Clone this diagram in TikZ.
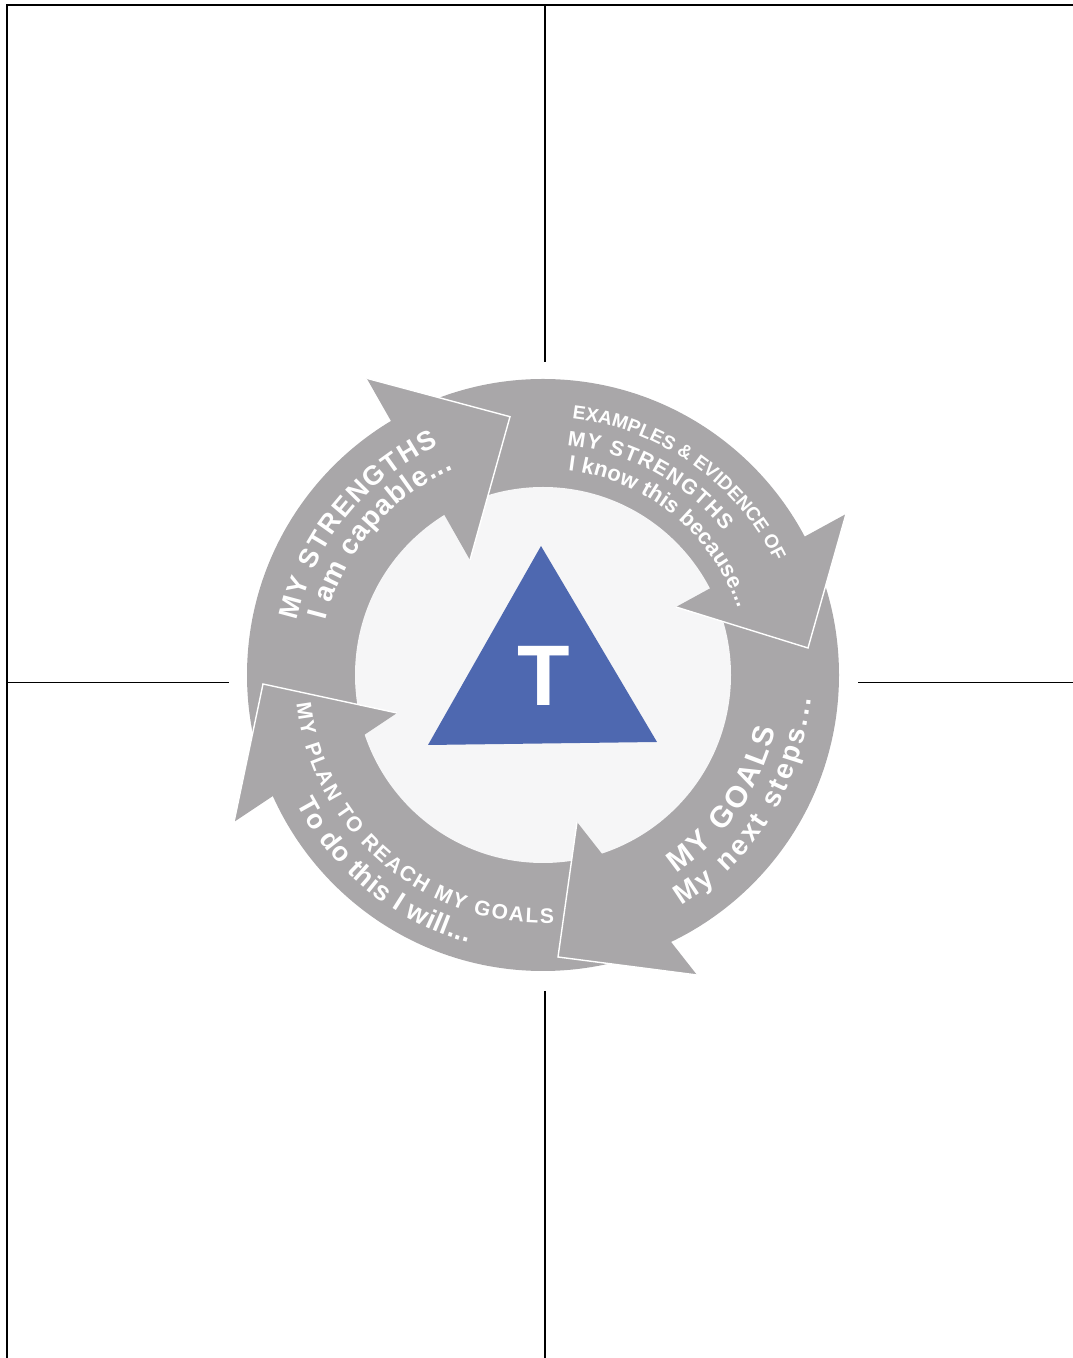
\documentclass[tikz,border=0pt]{standalone}
\usepackage{fontspec}
\setmainfont{Liberation Sans}
\usetikzlibrary{decorations.text}
\definecolor{ringgray}{RGB}{169,167,169}
\definecolor{hubgray}{RGB}{246,246,247}
\definecolor{tblue}{RGB}{78,104,176}
\newcommand{\arcfont}[1]{\bfseries\fontsize{#1}{#1}\selectfont}
\begin{document}
\begin{tikzpicture}[x=1pt,y=1pt,
  frame/.style={line width=2pt, line cap=rect},
  divider/.style={line width=1.6pt},
  headfill/.style={fill=ringgray},
  seam/.style={draw=white, line width=1.4pt, line join=miter},
  arclabel/.style={decorate, decoration={text along path,
      text align={fit to path}, text color=white, text={#1}}}
]
\useasboundingbox (0,0) rectangle (1073,1358);

% page frame and quadrant dividers
\draw[frame] (7,0) -- (7,1353) -- (1073,1353);
\draw[divider] (545,1353) -- (545,996);
\draw[divider] (545,367) -- (545,0);
\draw[divider] (7,675.5) -- (229,675.5);
\draw[divider] (858,675.5) -- (1073,675.5);

% cycle ring and hub
\coordinate (hub) at (543,683);
\fill[ringgray] (hub) circle[radius=296];
\fill[hubgray] (hub) circle[radius=188];

% arrowhead corners: outer barb, tip, inner barb
\coordinate (a1ob) at (366.7,979.7);
\coordinate (a1tip) at (510,941.3);
\coordinate (a1ib) at (470,798);
\coordinate (a2ob) at (846,844);
\coordinate (a2tip) at (808,710);
\coordinate (a2ib) at (676,751);
\coordinate (a3ob) at (697,383);
\coordinate (a3tip) at (558,401);
\coordinate (a3ib) at (577,536);
\coordinate (a4ob) at (234,536);
\coordinate (a4tip) at (263,674);
\coordinate (a4ib) at (397,645);

\foreach \a in {a1,a2,a3,a4}{
  \fill[headfill] (\a ob) -- (\a tip) -- (\a ib) -- cycle;
  \draw[seam] (\a ob) -- (\a tip) -- (\a ib);
}

% labels along the ring
\begin{scope}[shift={(543,683)}]
  % top left: strengths
  \path[arclabel={|\arcfont{27}|MY STRENGTHS}]
    (167.5:252) arc[start angle=167.5, end angle=114.5, radius=252];
  \path[arclabel={|\arcfont{28}|I am capable...}]
    (166:224) arc[start angle=166, end angle=113.5, radius=224];
  % top right: evidence
  \path[arclabel={|\arcfont{19}|EXAMPLES {\&} EVIDENCE OF}]
    (83.5:258) arc[start angle=83.5, end angle=26, radius=258];
  \path[arclabel={|\arcfont{21}|MY STRENGTHS}]
    (84:231) arc[start angle=84, end angle=38.5, radius=231];
  \path[arclabel={|\arcfont{22}|I know this because...}]
    (83:206) arc[start angle=83, end angle=19, radius=206];
  % bottom right: goals
  \path[arclabel={|\arcfont{30}|MY GOALS}]
    (-56:239) arc[start angle=-56, end angle=-13, radius=239];
  \path[arclabel={|\arcfont{28}|My next steps...}]
    (-59:269) arc[start angle=-59, end angle=-5, radius=269];
  % bottom left: plan
  \path[arclabel={|\arcfont{21}|MY PLAN TO REACH MY GOALS}]
    (186.5:248) arc[start angle=186.5, end angle=272.5, radius=248];
  \path[arclabel={|\arcfont{27}|To do this I will...}]
    (207.5:278) arc[start angle=207.5, end angle=254.5, radius=278];
\end{scope}

% centre emblem
\fill[tblue] (541,812) -- (428,613) -- (657,616) -- cycle;
\node[text=white, font=\arcfont{86}, inner sep=0pt] (emblem) at (544,682) {T};
\end{tikzpicture}
\end{document}
